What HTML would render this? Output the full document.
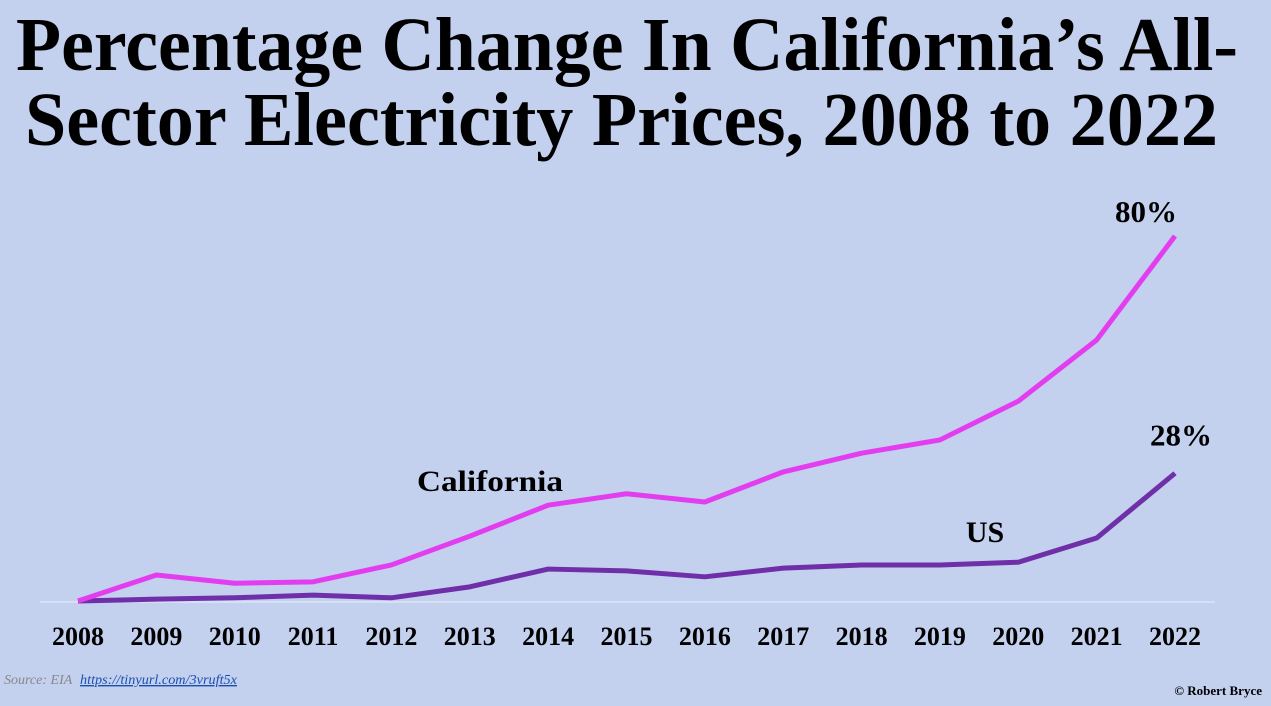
<!DOCTYPE html>
<html><head><meta charset="utf-8"><style>
html,body{margin:0;padding:0;background:#c3d0ee;}
svg{display:block;font-family:"Liberation Serif",serif;}
</style></head><body>
<svg width="1271" height="706" viewBox="0 0 1271 706">
<rect width="1271" height="706" fill="#c3d0ee"/>
<text x="16" y="70" font-size="76" font-weight="bold" textLength="1222" lengthAdjust="spacingAndGlyphs">Percentage Change In California’s All-</text>
<text x="25" y="145" font-size="76" font-weight="bold" textLength="1193" lengthAdjust="spacingAndGlyphs">Sector Electricity Prices, 2008 to 2022</text>
<line x1="40" y1="602" x2="1215" y2="602" stroke="#dde4f5" stroke-width="1.5"/>
<g id="ticks"></g>
<g id="lines"></g>
<text x="490" y="491" font-size="30" font-weight="bold" text-anchor="middle" textLength="146" lengthAdjust="spacingAndGlyphs">California</text>
<text x="985" y="542" font-size="30" font-weight="bold" text-anchor="middle">US</text>
<text x="4" y="684" font-size="14" font-style="italic" fill="#888">Source: EIA</text>
<text x="80" y="684" font-size="14" font-style="italic" fill="#1a4fb0" text-decoration="underline" textLength="157" lengthAdjust="spacingAndGlyphs">https://tinyurl.com/3vruft5x</text>
<text x="1262" y="695" font-size="13" font-weight="bold" text-anchor="end">© Robert Bryce</text>
</svg>
<script>
const years = ["2008","2009","2010","2011","2012","2013","2014","2015","2016","2017","2018","2019","2020","2021","2022"];
const california = [0,5.7,3.9,4.2,7.9,14.2,21,23.5,21.7,28.3,32.4,35.3,43.8,57.2,80];
const us = [0,0.4,0.7,1.3,0.7,3.1,7,6.6,5.3,7.2,7.9,7.9,8.5,13.8,28];
const endLabels = ["80%","28%"];
const NS="http://www.w3.org/2000/svg";
const x=i=>78+i*(1175-78)/(years.length-1);
const y=v=>601-v*(601-236)/80;
const ticks=document.getElementById('ticks'), lines=document.getElementById('lines');
years.forEach((yr,i)=>{
  const t=document.createElementNS(NS,'text');
  t.setAttribute('x',x(i));t.setAttribute('y',645);t.setAttribute('font-size','26');
  t.setAttribute('font-weight','bold');t.setAttribute('text-anchor','middle');
  
  
  t.textContent=yr;ticks.appendChild(t);
});
function line(vals,color,name){
  const p=document.createElementNS(NS,'polyline');
  p.setAttribute('points',vals.map((v,i)=>x(i)+','+y(v)).join(' '));
  p.setAttribute('fill','none');p.setAttribute('stroke',color);p.setAttribute('stroke-width','5');
  p.setAttribute('stroke-linejoin','round');
  
  
  lines.appendChild(p);
}
line(us,'#6f2fa8','us-line');
line(california,'#e23ef0','california-line');
const n=years.length-1;
[[california,endLabels[0],1146,-14,'california-end-label'],[us,endLabels[1],1181,-28,'us-end-label']].forEach(([vals,txt,lx,dy,nm])=>{
  const t=document.createElementNS(NS,'text');
  t.setAttribute('x',lx);t.setAttribute('y',y(vals[n])+dy);t.setAttribute('font-size','31');
  t.setAttribute('font-weight','bold');t.setAttribute('text-anchor','middle');
  
  
  t.textContent=txt;lines.appendChild(t);
});
</script>
</body></html>
